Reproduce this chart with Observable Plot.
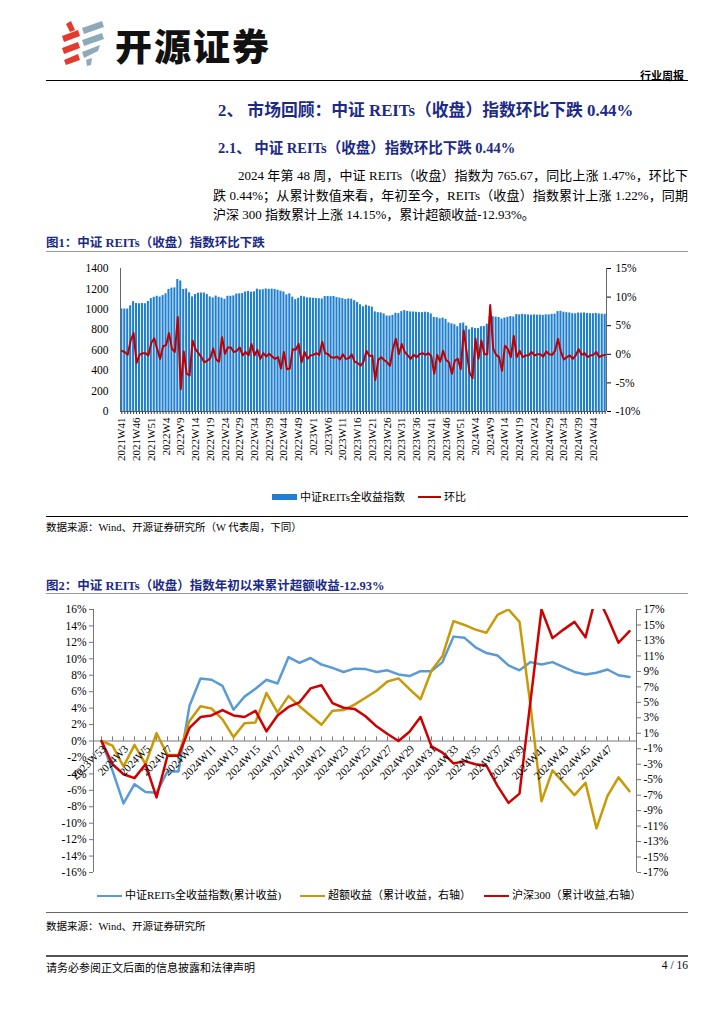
<!DOCTYPE html>
<html><head><meta charset="utf-8">
<script src="https://cdn.jsdelivr.net/npm/d3@7"></script>
<script src="https://cdn.jsdelivr.net/npm/@observablehq/plot@0.6"></script>
<style>
body{margin:0;background:#fff;}
#page{position:relative;width:724px;height:1024px;overflow:hidden;background:#fff;font-family:"Liberation Serif","Noto Sans CJK SC",serif;color:#000;}
.abs{position:absolute;white-space:nowrap;}
.navy{color:#1c2a87;font-weight:bold;}
.rule{position:absolute;left:46px;width:642px;height:0;}
.chart{position:absolute;left:0;}
.lg{position:absolute;font-size:11px;white-space:nowrap;line-height:14px;}
.sw{position:absolute;}
.para{position:absolute;left:213px;width:475px;font-size:13px;line-height:19.5px;text-align:justify;text-align-last:justify;white-space:nowrap;}
</style></head>
<body><div id="page">
  <svg class="abs" style="left:58px;top:20px" width="52" height="46" viewBox="0 0 52 46">
    <polygon points="8,4 13,1 17,10 12,12" fill="#e23b2e"/>
    <polygon points="4,16 20,10 22,16 6,22" fill="#e23b2e"/>
    <polygon points="4,28 20,22 22,28 6,34" fill="#e23b2e"/>
    <polygon points="6,40 20,34 22,40 8,45" fill="#e23b2e"/>
    <polygon points="24,8 44,1 46,7 26,14" fill="#8eaab9"/>
    <polygon points="24,20 44,13 46,19 26,26" fill="#8eaab9"/>
    <polygon points="24,32 42,25 40,31 26,38" fill="#8eaab9"/>
    <polygon points="28,40 34,38 33,45 29,46" fill="#8eaab9"/>
  </svg>
  <div class="abs" style="left:115px;top:18px;font-family:'Noto Sans CJK SC';font-weight:900;font-size:37px;letter-spacing:2px;color:#111;">开源证券</div>
  <div class="abs" style="left:640px;top:67px;font-family:'Noto Sans CJK SC';font-weight:bold;font-size:11px;">行业周报</div>
  <div class="rule" style="top:80px;border-top:1.5px solid #000;"></div>

  <div class="abs navy" style="left:218px;top:97px;font-size:16.8px;">2、 市场回顾：中证 REITs（收盘）指数环比下跌 0.44%</div>
  <div class="abs navy" style="left:218px;top:136px;font-size:14.5px;">2.1、 中证 REITs（收盘）指数环比下跌 0.44%</div>
  <div class="para" style="top:166px;text-indent:25px;">2024 年第 48 周，中证 REITs（收盘）指数为 765.67，同比上涨 1.47%，环比下</div>
  <div class="para" style="top:186px;">跌 0.44%；从累计数值来看，年初至今，REITs（收盘）指数累计上涨 1.22%，同期</div>
  <div class="para" style="top:205px;text-align-last:left;">沪深 300 指数累计上涨 14.15%，累计超额收益-12.93%。</div>

  <div class="abs navy" style="left:46px;top:232px;font-size:12.5px;">图1：中证 REITs（收盘）指数环比下跌</div>
  <div class="rule" style="top:251px;border-top:1.5px solid #9a9a9a;"></div>
  <div id="chart1" class="chart" style="top:255px;"></div>
  <div class="sw" style="left:272px;top:494px;width:25px;height:6px;background:#1f7fd0;"></div>
  <div class="lg" style="left:300px;top:490px;">中证REITs全收益指数</div>
  <div class="sw" style="left:418px;top:496px;width:23px;height:0;border-top:2px solid #c00000;"></div>
  <div class="lg" style="left:444px;top:490px;">环比</div>
  <div class="rule" style="top:516px;border-top:1px solid #000;"></div>
  <div class="abs" style="left:46px;top:519px;font-size:10.5px;">数据来源：Wind、开源证券研究所（W 代表周，下同）</div>

  <div class="abs navy" style="left:46px;top:575px;font-size:12.5px;">图2：中证 REITs（收盘）指数年初以来累计超额收益-12.93%</div>
  <div class="rule" style="top:593px;border-top:1.5px solid #9a9a9a;"></div>
  <div id="chart2" class="chart" style="top:600px;"></div>
  <div class="sw" style="left:97px;top:895px;width:25px;height:0;border-top:2.5px solid #5b9bd5;"></div>
  <div class="lg" style="left:125px;top:888px;">中证REITs全收益指数(累计收益)</div>
  <div class="sw" style="left:300px;top:895px;width:25px;height:0;border-top:2.5px solid #c99a06;"></div>
  <div class="lg" style="left:328px;top:888px;">超额收益（累计收益，右轴）</div>
  <div class="sw" style="left:484px;top:895px;width:25px;height:0;border-top:2.5px solid #d00000;"></div>
  <div class="lg" style="left:512px;top:888px;">沪深300（累计收益,右轴）</div>
  <div class="rule" style="top:912px;border-top:1px solid #666;"></div>
  <div class="abs" style="left:46px;top:918px;font-size:10.5px;">数据来源：Wind、开源证券研究所</div>

  <div class="rule" style="top:955px;border-top:2px solid #555;"></div>
  <div class="abs" style="left:46px;top:959px;font-size:11px;">请务必参阅正文后面的信息披露和法律声明</div>
  <div class="abs" style="left:648px;top:959px;width:40px;text-align:right;font-size:11.5px;">4 / 16</div>
</div>
<script>
// ---------- Chart 1 data ----------
const weekSpans1 = [["2021", 41, 52], ["2022", 1, 53], ["2023", 1, 53], ["2024", 2, 48]];
const reitsIndex = [
 1005,1003,1003,1035,1075,1058,1055,1057,1055,1078,1105,1118,1128,1120,1135,1152,1195,1208,1210,1292,
 1278,1195,1200,1162,1122,1145,1158,1160,1160,1145,1122,1112,1130,1118,1110,1098,1128,1128,1132,1150,
 1152,1155,1170,1175,1168,1172,1198,1190,1192,1200,1196,1198,1195,1188,1178,1170,1142,1152,1120,1095,
 1108,1128,1122,1112,1112,1108,1106,1104,1102,1125,1126,1124,1126,1115,1110,1105,1096,1102,1100,1085,
 1068,1045,1025,1040,1030,1022,975,968,965,955,935,934,941,962,958,978,988,980,975,974,
 972,968,968,972,968,955,922,918,908,914,902,868,858,850,830,862,866,836,800,820,
 812,812,830,832,855,930,928,924,920,905,915,922,930,926,950,946,951,947,945,943,
 946,944,944,941,946,946,951,953,978,981,972,967,965,958,956,964,963,965,960,958,
 957,960,955,953,952];
const weeklyChg = [
 0.6,0.4,-0.1,2.4,3.7,-1.5,-0.1,0.2,0.2,-0.2,2.0,2.8,0.9,-0.8,1.4,1.6,3.7,1.0,0.4,6.5,
 -6.1,0.5,-3.4,-3.7,2.4,0.9,0.2,-0.5,-1.4,-1.1,-0.7,1.0,-0.9,-1.3,3.0,0.1,1.2,1.2,0.4,0.6,
 1.2,-0.2,0.4,-0.2,1.8,-0.2,0.8,-0.8,0.2,-0.4,0.1,-0.4,-0.8,-0.5,-2.5,0.4,-2.6,-2.5,0.9,0.8,
 1.8,-1.4,0.4,-0.8,-0.2,-0.1,0.2,-0.1,2.2,0.2,0.0,-0.5,-0.6,-0.4,-0.9,0.0,-0.8,-0.7,0.0,-1.3,
 -1.5,-2.0,-1.3,0.6,-0.3,-0.2,-4.5,-1.0,-0.5,-1.0,-1.4,-2.0,1.0,2.7,0.0,1.8,0.4,-0.2,-0.8,-0.1,
 -0.5,0.0,0.2,-0.1,0.2,-0.3,-3.4,-0.1,-1.3,0.6,-1.0,-1.4,-3.4,-1.1,-0.8,-2.6,4.2,0.4,-3.2,-4.2,
 2.7,-0.8,2.4,0.0,0.0,8.6,1.0,-0.1,-0.5,-2.9,1.5,0.9,-0.5,3.2,-0.5,0.6,-0.5,-0.2,-0.2,0.4,
 -0.2,0.0,0.0,-0.4,0.5,0.0,-0.1,0.6,2.7,0.4,-0.9,-0.5,-0.2,-0.8,-0.2,0.9,-0.1,0.2,-0.5,-0.2,
 -0.1,0.4,-0.5,-0.2,-0.1];
const leftTicks1 = [0, 200, 400, 600, 800, 1000, 1200, 1400];
const rightTicks1 = [-10, -5, 0, 5, 10, 15];

// ---------- Chart 2 data ----------
const weeks2 = ["2023W53","2024W2","2024W3","2024W4","2024W5","2024W6","2024W7","2024W8","2024W9","2024W10",
 "2024W11","2024W12","2024W13","2024W14","2024W15","2024W16","2024W17","2024W18","2024W19","2024W20",
 "2024W21","2024W22","2024W23","2024W24","2024W25","2024W26","2024W27","2024W28","2024W29","2024W30",
 "2024W31","2024W32","2024W33","2024W34","2024W35","2024W36","2024W37","2024W38","2024W39","2024W40",
 "2024W41","2024W42","2024W43","2024W44","2024W45","2024W46","2024W47","2024W48","2024W49"];
const weekLabels2 = ["2023W53","2024W3","2024W5","2024W7","2024W9","2024W11","2024W13","2024W15","2024W17",
 "2024W19","2024W21","2024W23","2024W25","2024W27","2024W29","2024W31","2024W33","2024W35","2024W37",
 "2024W39","2024W41","2024W43","2024W45","2024W47"];
const reitsCum = [0,-3.6,-7.6,-5.25,-6.2,-6.3,-3.7,-3.7,4.3,7.6,7.45,6.7,3.8,5.4,6.35,7.45,7.0,10.2,9.5,10.1,
 9.3,8.9,8.4,8.8,8.75,8.4,8.6,8.1,7.9,8.5,8.5,9.6,12.7,12.55,11.4,10.7,10.4,9.2,8.6,9.6,
 9.3,9.6,9.0,8.4,8.1,8.3,8.7,8.0,7.8];
const excessCum = [0,-0.6,-3.3,-0.5,-3.0,1.0,-1.8,-1.8,2.6,4.5,4.2,2.8,0.5,2.3,2.4,6.2,3.7,5.8,4.5,3.3,
 2.1,3.9,4.0,4.7,5.6,6.5,7.7,8.1,6.7,5.4,9.1,11.0,15.5,15.0,14.4,14.0,16.3,17.0,15.4,4.6,
 -7.8,-3.8,-5.4,-7.0,-5.4,-11.3,-7.1,-4.7,-6.5];
const hs300Cum = [0,-3.0,-4.3,-4.8,-3.0,-7.3,-1.9,-1.9,1.7,3.1,3.3,4.0,3.3,3.1,3.9,1.25,3.3,4.4,5.0,6.8,
 7.2,4.9,4.3,4.15,3.2,1.9,0.9,0.0,1.2,3.1,-0.7,-1.5,-2.9,-2.6,-3.0,-3.2,-5.8,-8.0,-6.8,5.2,
 17.0,13.3,14.4,15.4,13.4,19.0,16.0,12.7,14.2];
const leftTicks2 = [-16,-14,-12,-10,-8,-6,-4,-2,0,2,4,6,8,10,12,14,16];
const rightTicks2 = [-17,-15,-13,-11,-9,-7,-5,-3,-1,1,3,5,7,9,11,13,15,17];

const FONT = "Liberation Serif, Noto Sans CJK SC, serif";

// ---------- Chart 1 ----------
const weeks1 = [];
for (const [yr, a, b] of weekSpans1) for (let w = a; w <= b; w++) weeks1.push(yr + "W" + w);
const rows1 = weeks1.map((w, i) => ({week: w, idx: reitsIndex[i], chg: weeklyChg[i]}));
const R1 = {min: -10, max: 15}, L1 = {min: 0, max: 1400};
const chgToLeft = v => L1.min + (v - R1.min) / (R1.max - R1.min) * (L1.max - L1.min);
const labelSet1 = new Set(weeks1.filter((d, i) => i % 5 === 0));

const c1 = Plot.plot({
  width: 724, height: 240, marginTop: 13, marginBottom: 84, marginLeft: 120, marginRight: 118,
  style: {fontFamily: FONT, fontSize: "11.5px", background: "transparent", color: "#000"},
  x: {type: "band", domain: weeks1, paddingInner: 0.3, paddingOuter: 0.1, axis: null},
  y: {domain: [L1.min, L1.max], axis: null},
  marks: [
    Plot.barY(rows1, {x: "week", y: "idx", fill: "#1f7fd0"}),
    Plot.axisX({ticks: weeks1, anchor: "bottom", label: null, tickSize: 3, tickPadding: 3, tickRotate: -90,
      tickFormat: d => labelSet1.has(d) ? d : "", stroke: "#333", fontSize: 11}),
    Plot.ruleY([0], {stroke: "#555"}),
    Plot.lineY(rows1, {x: "week", y: d => chgToLeft(d.chg), stroke: "#c00000", strokeWidth: 2}),
    Plot.axisY({ticks: leftTicks1, anchor: "left", label: null, tickSize: 0, tickPadding: 12, tickFormat: d => String(d)}),
    Plot.axisY({ticks: rightTicks1.map(chgToLeft), anchor: "right", label: null, tickSize: 4, tickPadding: 5,
      tickFormat: d => Math.round((d - L1.min) / (L1.max - L1.min) * (R1.max - R1.min) + R1.min) + "%"})
  ]
});
document.getElementById("chart1").appendChild(c1);
{
  const ys = c1.scale("y").range;
  const g = d3.select(c1).append("g").attr("stroke", "#666").attr("stroke-width", 1);
  g.append("line").attr("x1", 120.5).attr("x2", 120.5).attr("y1", ys[0]).attr("y2", ys[1]);
  g.append("line").attr("x1", 606.5).attr("x2", 606.5).attr("y1", ys[0]).attr("y2", ys[1]);
}

// ---------- Chart 2 ----------
const rows2 = weeks2.map((w, i) => ({week: w, reits: reitsCum[i], excess: excessCum[i], hs: hs300Cum[i]}));
const r2l = v => v * 16 / 17;
const c2 = Plot.plot({
  width: 724, height: 290, marginTop: 9, marginBottom: 18, marginLeft: 93, marginRight: 88,
  style: {fontFamily: FONT, fontSize: "11.5px", background: "transparent", color: "#000"},
  x: {type: "point", domain: weeks2, padding: 0.5, axis: null},
  y: {domain: [-16, 16], axis: null},
  marks: [
    Plot.ruleY([0], {stroke: "#777"}),
    Plot.ruleX(weeks2, {x: d => d, y1: 0, y2: 0.5, stroke: "#777"}),
    Plot.axisY({ticks: leftTicks2, anchor: "left", label: null, tickSize: 4, tickPadding: 3, stroke: "#777", tickFormat: d => d + "%"}),
    Plot.axisY({ticks: rightTicks2.map(r2l), anchor: "right", label: null, tickSize: 4, tickPadding: 3, stroke: "#777",
      tickFormat: d => Math.round(d * 17 / 16) + "%"}),
    Plot.lineY(rows2, {x: "week", y: "reits", stroke: "#5b9bd5", strokeWidth: 2.5, clip: true}),
    Plot.lineY(rows2, {x: "week", y: d => r2l(d.excess), stroke: "#c99a06", strokeWidth: 2.5, clip: true}),
    Plot.lineY(rows2, {x: "week", y: d => r2l(d.hs), stroke: "#d00000", strokeWidth: 2.5, clip: true}),
    Plot.text(weekLabels2, {x: d => d, y: 0, text: d => d, rotate: -45, textAnchor: "end", dx: 3, dy: 6, fontSize: 11, fill: "#000"})
  ]
});
document.getElementById("chart2").appendChild(c2);
{
  const ys = c2.scale("y").range;
  const g = d3.select(c2).append("g").attr("stroke", "#777").attr("stroke-width", 1);
  g.append("line").attr("x1", 93.5).attr("x2", 93.5).attr("y1", ys[0]).attr("y2", ys[1]);
  g.append("line").attr("x1", 636.5).attr("x2", 636.5).attr("y1", ys[0]).attr("y2", ys[1]);
}
</script>
</body></html>
